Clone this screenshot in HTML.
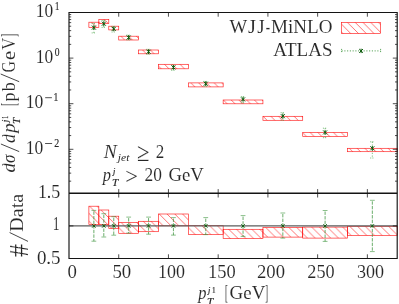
<!DOCTYPE html>
<html><head><meta charset="utf-8"><title>plot</title>
<style>
html,body{margin:0;padding:0;background:#fff;}
body{width:399px;height:304px;overflow:hidden;font-family:"Liberation Serif",serif;}
svg{display:block;will-change:transform;}
text{font-family:"Liberation Serif",serif;}
</style></head><body>
<svg width="399" height="304" viewBox="0 0 399 304">
<rect width="399" height="304" fill="#fff"/>
<defs><pattern id="h" patternUnits="userSpaceOnUse" width="7.75" height="7.75" patternTransform="translate(-0.5,0)"><path d="M-7.75,-7.75 L15.5,15.5 M0,-7.75 L15.5,7.75 M-7.75,0 L7.75,15.5" stroke="#ff0000" stroke-width="0.62" stroke-opacity="0.9" fill="none"/></pattern></defs>
<rect x="88.89" y="206.20" width="9.95" height="18.40" fill="url(#h)" stroke="#ff0000" stroke-width="0.65" stroke-opacity="0.9"/>
<rect x="98.84" y="210.00" width="9.95" height="14.60" fill="url(#h)" stroke="#ff0000" stroke-width="0.65" stroke-opacity="0.9"/>
<rect x="108.78" y="216.20" width="9.95" height="12.20" fill="url(#h)" stroke="#ff0000" stroke-width="0.65" stroke-opacity="0.9"/>
<rect x="118.73" y="222.50" width="19.89" height="10.80" fill="url(#h)" stroke="#ff0000" stroke-width="0.65" stroke-opacity="0.9"/>
<rect x="138.62" y="221.30" width="19.89" height="10.40" fill="url(#h)" stroke="#ff0000" stroke-width="0.65" stroke-opacity="0.9"/>
<rect x="158.51" y="214.00" width="29.84" height="11.80" fill="url(#h)" stroke="#ff0000" stroke-width="0.65" stroke-opacity="0.9"/>
<rect x="188.35" y="225.70" width="34.81" height="8.90" fill="url(#h)" stroke="#ff0000" stroke-width="0.65" stroke-opacity="0.9"/>
<rect x="223.15" y="229.30" width="39.78" height="9.30" fill="url(#h)" stroke="#ff0000" stroke-width="0.65" stroke-opacity="0.9"/>
<rect x="262.94" y="227.60" width="39.78" height="9.50" fill="url(#h)" stroke="#ff0000" stroke-width="0.65" stroke-opacity="0.9"/>
<rect x="302.72" y="227.10" width="44.75" height="11.00" fill="url(#h)" stroke="#ff0000" stroke-width="0.65" stroke-opacity="0.9"/>
<rect x="347.47" y="226.40" width="49.73" height="9.00" fill="url(#h)" stroke="#ff0000" stroke-width="0.65" stroke-opacity="0.9"/>
<line x1="69.0" y1="225.90" x2="397.2" y2="225.90" stroke="#5c5c5c" stroke-width="1.35"/>
<line x1="93.86" y1="210.40" x2="93.86" y2="241.20" stroke="#3b933b" stroke-width="0.75" stroke-dasharray="3.4,1.2" stroke-dashoffset="-1.0"/>
<path d="M91.46,210.40 h4.8 M91.46,241.20 h4.8" stroke="#3b933b" stroke-width="0.6" fill="none"/>
<path d="M92.16,224.20 L95.56,227.60 M92.16,227.60 L95.56,224.20" stroke="#0b5a0b" stroke-width="1.0" fill="none"/>
<line x1="103.81" y1="213.70" x2="103.81" y2="237.00" stroke="#3b933b" stroke-width="0.75" stroke-dasharray="3.4,1.2" stroke-dashoffset="-1.0"/>
<path d="M101.41,213.70 h4.8 M101.41,237.00 h4.8" stroke="#3b933b" stroke-width="0.6" fill="none"/>
<path d="M102.11,224.20 L105.51,227.60 M102.11,227.60 L105.51,224.20" stroke="#0b5a0b" stroke-width="1.0" fill="none"/>
<line x1="113.75" y1="216.70" x2="113.75" y2="235.20" stroke="#3b933b" stroke-width="0.75" stroke-dasharray="3.4,1.2" stroke-dashoffset="-1.0"/>
<path d="M111.35,216.70 h4.8 M111.35,235.20 h4.8" stroke="#3b933b" stroke-width="0.6" fill="none"/>
<path d="M112.05,224.20 L115.45,227.60 M112.05,227.60 L115.45,224.20" stroke="#0b5a0b" stroke-width="1.0" fill="none"/>
<line x1="128.67" y1="217.10" x2="128.67" y2="233.10" stroke="#3b933b" stroke-width="0.75" stroke-dasharray="3.4,1.2" stroke-dashoffset="-1.0"/>
<path d="M126.27,217.10 h4.8 M126.27,233.10 h4.8" stroke="#3b933b" stroke-width="0.6" fill="none"/>
<path d="M126.97,224.20 L130.37,227.60 M126.97,227.60 L130.37,224.20" stroke="#0b5a0b" stroke-width="1.0" fill="none"/>
<line x1="148.56" y1="217.10" x2="148.56" y2="234.20" stroke="#3b933b" stroke-width="0.75" stroke-dasharray="3.4,1.2" stroke-dashoffset="-1.0"/>
<path d="M146.16,217.10 h4.8 M146.16,234.20 h4.8" stroke="#3b933b" stroke-width="0.6" fill="none"/>
<path d="M146.86,224.20 L150.26,227.60 M146.86,227.60 L150.26,224.20" stroke="#0b5a0b" stroke-width="1.0" fill="none"/>
<line x1="173.43" y1="217.60" x2="173.43" y2="235.10" stroke="#3b933b" stroke-width="0.75" stroke-dasharray="3.4,1.2" stroke-dashoffset="-1.0"/>
<path d="M171.03,217.60 h4.8 M171.03,235.10 h4.8" stroke="#3b933b" stroke-width="0.6" fill="none"/>
<path d="M171.73,224.20 L175.13,227.60 M171.73,227.60 L175.13,224.20" stroke="#0b5a0b" stroke-width="1.0" fill="none"/>
<line x1="205.75" y1="217.60" x2="205.75" y2="234.60" stroke="#3b933b" stroke-width="0.75" stroke-dasharray="3.4,1.2" stroke-dashoffset="-1.0"/>
<path d="M203.35,217.60 h4.8 M203.35,234.60 h4.8" stroke="#3b933b" stroke-width="0.6" fill="none"/>
<path d="M204.05,224.20 L207.45,227.60 M204.05,227.60 L207.45,224.20" stroke="#0b5a0b" stroke-width="1.0" fill="none"/>
<line x1="243.05" y1="215.60" x2="243.05" y2="236.40" stroke="#3b933b" stroke-width="0.75" stroke-dasharray="3.4,1.2" stroke-dashoffset="-1.0"/>
<path d="M240.65,215.60 h4.8 M240.65,236.40 h4.8" stroke="#3b933b" stroke-width="0.6" fill="none"/>
<path d="M241.35,224.20 L244.75,227.60 M241.35,227.60 L244.75,224.20" stroke="#0b5a0b" stroke-width="1.0" fill="none"/>
<line x1="282.83" y1="213.00" x2="282.83" y2="238.10" stroke="#3b933b" stroke-width="0.75" stroke-dasharray="3.4,1.2" stroke-dashoffset="-1.0"/>
<path d="M280.43,213.00 h4.8 M280.43,238.10 h4.8" stroke="#3b933b" stroke-width="0.6" fill="none"/>
<path d="M281.13,224.20 L284.53,227.60 M281.13,227.60 L284.53,224.20" stroke="#0b5a0b" stroke-width="1.0" fill="none"/>
<line x1="325.10" y1="210.50" x2="325.10" y2="241.40" stroke="#3b933b" stroke-width="0.75" stroke-dasharray="3.4,1.2" stroke-dashoffset="-1.0"/>
<path d="M322.70,210.50 h4.8 M322.70,241.40 h4.8" stroke="#3b933b" stroke-width="0.6" fill="none"/>
<path d="M323.40,224.20 L326.80,227.60 M323.40,227.60 L326.80,224.20" stroke="#0b5a0b" stroke-width="1.0" fill="none"/>
<line x1="372.34" y1="200.30" x2="372.34" y2="251.60" stroke="#3b933b" stroke-width="0.75" stroke-dasharray="3.4,1.2" stroke-dashoffset="-1.0"/>
<path d="M369.94,200.30 h4.8 M369.94,251.60 h4.8" stroke="#3b933b" stroke-width="0.6" fill="none"/>
<path d="M370.64,224.20 L374.04,227.60 M370.64,227.60 L374.04,224.20" stroke="#0b5a0b" stroke-width="1.0" fill="none"/>
<rect x="88.89" y="22.20" width="9.95" height="5.10" fill="url(#h)" stroke="#ff0000" stroke-width="0.65" stroke-opacity="0.9"/>
<rect x="98.84" y="19.40" width="9.95" height="4.20" fill="url(#h)" stroke="#ff0000" stroke-width="0.65" stroke-opacity="0.9"/>
<rect x="108.78" y="26.20" width="9.95" height="3.70" fill="url(#h)" stroke="#ff0000" stroke-width="0.65" stroke-opacity="0.9"/>
<rect x="118.73" y="36.20" width="19.89" height="3.80" fill="url(#h)" stroke="#ff0000" stroke-width="0.65" stroke-opacity="0.9"/>
<rect x="138.62" y="50.00" width="19.89" height="3.80" fill="url(#h)" stroke="#ff0000" stroke-width="0.65" stroke-opacity="0.9"/>
<rect x="158.51" y="64.30" width="29.84" height="4.50" fill="url(#h)" stroke="#ff0000" stroke-width="0.65" stroke-opacity="0.9"/>
<rect x="188.35" y="82.90" width="34.81" height="4.00" fill="url(#h)" stroke="#ff0000" stroke-width="0.65" stroke-opacity="0.9"/>
<rect x="223.15" y="100.00" width="39.78" height="3.80" fill="url(#h)" stroke="#ff0000" stroke-width="0.65" stroke-opacity="0.9"/>
<rect x="262.94" y="116.30" width="39.78" height="4.00" fill="url(#h)" stroke="#ff0000" stroke-width="0.65" stroke-opacity="0.9"/>
<rect x="302.72" y="132.40" width="44.75" height="4.00" fill="url(#h)" stroke="#ff0000" stroke-width="0.65" stroke-opacity="0.9"/>
<rect x="347.47" y="148.30" width="49.73" height="3.40" fill="url(#h)" stroke="#ff0000" stroke-width="0.65" stroke-opacity="0.9"/>
<line x1="93.86" y1="23.50" x2="93.86" y2="32.90" stroke="#4fa64f" stroke-width="0.8" stroke-dasharray="1.1,1.65"/>
<path d="M91.66,23.50 h4.4 M91.66,32.90 h4.4" stroke="#4fa64f" stroke-width="0.7" stroke-dasharray="1.1,1.1" fill="none"/>
<path d="M91.86,25.60 L95.86,29.60 M91.86,29.60 L95.86,25.60 M93.86,25.30 L93.86,29.90" stroke="#0b5a0b" stroke-width="1.0" fill="none"/>
<line x1="103.81" y1="20.50" x2="103.81" y2="27.40" stroke="#4fa64f" stroke-width="0.8" stroke-dasharray="1.1,1.65"/>
<path d="M101.61,20.50 h4.4 M101.61,27.40 h4.4" stroke="#4fa64f" stroke-width="0.7" stroke-dasharray="1.1,1.1" fill="none"/>
<path d="M101.81,21.70 L105.81,25.70 M101.81,25.70 L105.81,21.70 M103.81,21.40 L103.81,26.00" stroke="#0b5a0b" stroke-width="1.0" fill="none"/>
<line x1="113.75" y1="26.40" x2="113.75" y2="32.00" stroke="#4fa64f" stroke-width="0.8" stroke-dasharray="1.1,1.65"/>
<path d="M111.55,26.40 h4.4 M111.55,32.00 h4.4" stroke="#4fa64f" stroke-width="0.7" stroke-dasharray="1.1,1.1" fill="none"/>
<path d="M111.75,26.90 L115.75,30.90 M111.75,30.90 L115.75,26.90 M113.75,26.60 L113.75,31.20" stroke="#0b5a0b" stroke-width="1.0" fill="none"/>
<line x1="128.67" y1="35.10" x2="128.67" y2="39.90" stroke="#4fa64f" stroke-width="0.8" stroke-dasharray="1.1,1.65"/>
<path d="M126.47,35.10 h4.4 M126.47,39.90 h4.4" stroke="#4fa64f" stroke-width="0.7" stroke-dasharray="1.1,1.1" fill="none"/>
<path d="M126.67,35.50 L130.67,39.50 M126.67,39.50 L130.67,35.50 M128.67,35.20 L128.67,39.80" stroke="#0b5a0b" stroke-width="1.0" fill="none"/>
<line x1="148.56" y1="49.30" x2="148.56" y2="54.40" stroke="#4fa64f" stroke-width="0.8" stroke-dasharray="1.1,1.65"/>
<path d="M146.36,49.30 h4.4 M146.36,54.40 h4.4" stroke="#4fa64f" stroke-width="0.7" stroke-dasharray="1.1,1.1" fill="none"/>
<path d="M146.56,49.70 L150.56,53.70 M146.56,53.70 L150.56,49.70 M148.56,49.40 L148.56,54.00" stroke="#0b5a0b" stroke-width="1.0" fill="none"/>
<line x1="173.43" y1="65.10" x2="173.43" y2="70.40" stroke="#4fa64f" stroke-width="0.8" stroke-dasharray="1.1,1.65"/>
<path d="M171.23,65.10 h4.4 M171.23,70.40 h4.4" stroke="#4fa64f" stroke-width="0.7" stroke-dasharray="1.1,1.1" fill="none"/>
<path d="M171.43,65.40 L175.43,69.40 M171.43,69.40 L175.43,65.40 M173.43,65.10 L173.43,69.70" stroke="#0b5a0b" stroke-width="1.0" fill="none"/>
<line x1="205.75" y1="81.40" x2="205.75" y2="86.60" stroke="#4fa64f" stroke-width="0.8" stroke-dasharray="1.1,1.65"/>
<path d="M203.55,81.40 h4.4 M203.55,86.60 h4.4" stroke="#4fa64f" stroke-width="0.7" stroke-dasharray="1.1,1.1" fill="none"/>
<path d="M203.75,81.70 L207.75,85.70 M203.75,85.70 L207.75,81.70 M205.75,81.40 L205.75,86.00" stroke="#0b5a0b" stroke-width="1.0" fill="none"/>
<line x1="243.05" y1="96.60" x2="243.05" y2="102.90" stroke="#4fa64f" stroke-width="0.8" stroke-dasharray="1.1,1.65"/>
<path d="M240.85,96.60 h4.4 M240.85,102.90 h4.4" stroke="#4fa64f" stroke-width="0.7" stroke-dasharray="1.1,1.1" fill="none"/>
<path d="M241.05,97.40 L245.05,101.40 M241.05,101.40 L245.05,97.40 M243.05,97.10 L243.05,101.70" stroke="#0b5a0b" stroke-width="1.0" fill="none"/>
<line x1="282.83" y1="112.70" x2="282.83" y2="120.30" stroke="#4fa64f" stroke-width="0.8" stroke-dasharray="1.1,1.65"/>
<path d="M280.63,112.70 h4.4 M280.63,120.30 h4.4" stroke="#4fa64f" stroke-width="0.7" stroke-dasharray="1.1,1.1" fill="none"/>
<path d="M280.83,114.20 L284.83,118.20 M280.83,118.20 L284.83,114.20 M282.83,113.90 L282.83,118.50" stroke="#0b5a0b" stroke-width="1.0" fill="none"/>
<line x1="325.10" y1="128.20" x2="325.10" y2="137.70" stroke="#4fa64f" stroke-width="0.8" stroke-dasharray="1.1,1.65"/>
<path d="M322.90,128.20 h4.4 M322.90,137.70 h4.4" stroke="#4fa64f" stroke-width="0.7" stroke-dasharray="1.1,1.1" fill="none"/>
<path d="M323.10,130.40 L327.10,134.40 M323.10,134.40 L327.10,130.40 M325.10,130.10 L325.10,134.70" stroke="#0b5a0b" stroke-width="1.0" fill="none"/>
<line x1="372.34" y1="141.80" x2="372.34" y2="158.00" stroke="#4fa64f" stroke-width="0.8" stroke-dasharray="1.1,1.65"/>
<path d="M370.14,141.80 h4.4 M370.14,158.00 h4.4" stroke="#4fa64f" stroke-width="0.7" stroke-dasharray="1.1,1.1" fill="none"/>
<path d="M370.34,146.30 L374.34,150.30 M370.34,150.30 L374.34,146.30 M372.34,146.00 L372.34,150.60" stroke="#0b5a0b" stroke-width="1.0" fill="none"/>
<rect x="341.50" y="22.50" width="39.00" height="11.00" fill="url(#h)" stroke="#ff0000" stroke-width="0.65" stroke-opacity="0.9"/>
<line x1="341.6" y1="50.9" x2="380.6" y2="50.9" stroke="#3b933b" stroke-width="0.9" stroke-dasharray="1.1,1.65"/>
<path d="M341.6,48.9 v4 M380.6,48.9 v4" stroke="#3b933b" stroke-width="0.8" stroke-dasharray="1.1,1.0" fill="none"/>
<path d="M359.20,49.00 L363.00,52.80 M359.20,52.80 L363.00,49.00 M361.10,48.70 L361.10,53.10" stroke="#0b5a0b" stroke-width="1.0" fill="none"/>
<path d="M69.0,12.5 H397.2 V258.5 H69.0 Z" stroke="#141414" stroke-width="1.15" fill="none"/>
<path d="M69.0,193.3 H397.2" stroke="#141414" stroke-width="1.4" fill="none"/>
<path d="M118.73,12.5 v4.2 M118.73,189.10000000000002 v8.4 M118.73,258.5 v-4.2 M168.45,12.5 v4.2 M168.45,189.10000000000002 v8.4 M168.45,258.5 v-4.2 M218.18,12.5 v4.2 M218.18,189.10000000000002 v8.4 M218.18,258.5 v-4.2 M267.91,12.5 v4.2 M267.91,189.10000000000002 v8.4 M267.91,258.5 v-4.2 M317.64,12.5 v4.2 M317.64,189.10000000000002 v8.4 M317.64,258.5 v-4.2 M367.36,12.5 v4.2 M367.36,189.10000000000002 v8.4 M367.36,258.5 v-4.2 M69.0,44.37 h2.2 M397.2,44.37 h-2.2 M69.0,36.34 h2.2 M397.2,36.34 h-2.2 M69.0,30.65 h2.2 M397.2,30.65 h-2.2 M69.0,26.23 h2.2 M397.2,26.23 h-2.2 M69.0,22.62 h2.2 M397.2,22.62 h-2.2 M69.0,19.56 h2.2 M397.2,19.56 h-2.2 M69.0,16.92 h2.2 M397.2,16.92 h-2.2 M69.0,14.59 h2.2 M397.2,14.59 h-2.2 M69.0,58.10 h4.4 M397.2,58.10 h-4.4 M69.0,89.97 h2.2 M397.2,89.97 h-2.2 M69.0,81.94 h2.2 M397.2,81.94 h-2.2 M69.0,76.25 h2.2 M397.2,76.25 h-2.2 M69.0,71.83 h2.2 M397.2,71.83 h-2.2 M69.0,68.22 h2.2 M397.2,68.22 h-2.2 M69.0,65.16 h2.2 M397.2,65.16 h-2.2 M69.0,62.52 h2.2 M397.2,62.52 h-2.2 M69.0,60.19 h2.2 M397.2,60.19 h-2.2 M69.0,103.70 h4.4 M397.2,103.70 h-4.4 M69.0,135.57 h2.2 M397.2,135.57 h-2.2 M69.0,127.54 h2.2 M397.2,127.54 h-2.2 M69.0,121.85 h2.2 M397.2,121.85 h-2.2 M69.0,117.43 h2.2 M397.2,117.43 h-2.2 M69.0,113.82 h2.2 M397.2,113.82 h-2.2 M69.0,110.76 h2.2 M397.2,110.76 h-2.2 M69.0,108.12 h2.2 M397.2,108.12 h-2.2 M69.0,105.79 h2.2 M397.2,105.79 h-2.2 M69.0,149.30 h4.4 M397.2,149.30 h-4.4 M69.0,181.17 h2.2 M397.2,181.17 h-2.2 M69.0,173.14 h2.2 M397.2,173.14 h-2.2 M69.0,167.45 h2.2 M397.2,167.45 h-2.2 M69.0,163.03 h2.2 M397.2,163.03 h-2.2 M69.0,159.42 h2.2 M397.2,159.42 h-2.2 M69.0,156.36 h2.2 M397.2,156.36 h-2.2 M69.0,153.72 h2.2 M397.2,153.72 h-2.2 M69.0,151.39 h2.2 M397.2,151.39 h-2.2 M69.0,225.90 h4.4 M397.2,225.90 h-4.4" stroke="#141414" stroke-width="0.75" fill="none"/>
<text transform="translate(35.80,16.50) scale(0.9158,1.0000)" font-size="19" fill="#262626" stroke="#fff" stroke-width="0.1">10</text>
<text transform="translate(55.00,9.80) scale(0.7478,1.0000)" font-size="11.5" fill="#262626" stroke="#262626" stroke-width="0.15">1</text>
<text transform="translate(35.80,62.90) scale(0.9158,1.0000)" font-size="19" fill="#262626" stroke="#fff" stroke-width="0.1">10</text>
<text transform="translate(54.80,56.20) scale(0.8348,1.0000)" font-size="11.5" fill="#262626" stroke="#262626" stroke-width="0.15">0</text>
<text transform="translate(25.70,108.20) scale(0.9263,1.0000)" font-size="19" fill="#262626" stroke="#fff" stroke-width="0.1">10</text>
<line x1="45.2" y1="97.7" x2="51.9" y2="97.7" stroke="#262626" stroke-width="0.8"/>
<text transform="translate(53.50,101.30) scale(0.8348,1.0000)" font-size="11.5" fill="#262626" stroke="#262626" stroke-width="0.15">1</text>
<text transform="translate(25.70,154.00) scale(0.9211,1.0000)" font-size="19" fill="#262626" stroke="#fff" stroke-width="0.1">10</text>
<line x1="45.1" y1="143.5" x2="52.1" y2="143.5" stroke="#262626" stroke-width="0.8"/>
<text transform="translate(54.30,146.60) scale(0.8696,1.0000)" font-size="11.5" fill="#262626" stroke="#262626" stroke-width="0.15">2</text>
<text transform="translate(37.90,197.90) scale(0.9432,1.0000)" font-size="19" fill="#262626" stroke="#fff" stroke-width="0.1">1.5</text>
<text transform="translate(52.80,230.40) scale(0.7158,1.0000)" font-size="19" fill="#262626" stroke="#fff" stroke-width="0.1">1</text>
<text transform="translate(36.90,263.90) scale(0.9979,1.0000)" font-size="19" fill="#262626" stroke="#fff" stroke-width="0.1">0.5</text>
<text transform="translate(67.40,278.20) scale(0.9895,1.0000)" font-size="19" fill="#262626" stroke="#fff" stroke-width="0.1">0</text>
<text transform="translate(112.40,278.20) scale(0.9895,1.0000)" font-size="19" fill="#262626" stroke="#fff" stroke-width="0.1">50</text>
<text transform="translate(158.10,278.20) scale(0.9474,1.0000)" font-size="19" fill="#262626" stroke="#fff" stroke-width="0.1">100</text>
<text transform="translate(208.10,278.20) scale(0.9719,1.0000)" font-size="19" fill="#262626" stroke="#fff" stroke-width="0.1">150</text>
<text transform="translate(257.00,278.20) scale(0.9825,1.0000)" font-size="19" fill="#262626" stroke="#fff" stroke-width="0.1">200</text>
<text transform="translate(307.30,278.20) scale(0.9579,1.0000)" font-size="19" fill="#262626" stroke="#fff" stroke-width="0.1">250</text>
<text transform="translate(356.90,278.20) scale(0.9509,1.0000)" font-size="19" fill="#262626" stroke="#fff" stroke-width="0.1">300</text>
<text transform="translate(229.60,32.80) scale(0.9858,1.0000)" font-size="19" fill="#262626" stroke="#fff" stroke-width="0.1">W</text>
<text transform="translate(247.90,32.80) scale(1.0796,1.0000)" font-size="19" fill="#262626" stroke="#fff" stroke-width="0.1">J</text>
<text transform="translate(257.30,32.80) scale(0.9987,1.0000)" font-size="19" fill="#262626" stroke="#fff" stroke-width="0.1">J</text>
<text transform="translate(265.80,32.80) scale(0.6806,1.0000)" font-size="19" fill="#262626" stroke="#fff" stroke-width="0.1">-</text>
<text transform="translate(271.00,32.80) scale(1.0045,1.0000)" font-size="19" fill="#262626" stroke="#fff" stroke-width="0.1">MiNLO</text>
<text transform="translate(273.30,55.60) scale(1.0027,1.0000)" font-size="19" fill="#262626" stroke="#fff" stroke-width="0.1">ATLAS</text>
<text transform="translate(103.65,158.00) scale(1.0271,1.0000)" font-size="19" font-style="italic" fill="#262626" stroke="#fff" stroke-width="0.1">N</text>
<text transform="translate(117.84,160.60) scale(1.1504,1.0000)" font-size="10" font-style="italic" fill="#262626">jet</text>
<text transform="translate(137.10,160.80) scale(1.1962,1.3800)" font-size="19" fill="#262626" stroke="#fff" stroke-width="0.1">≥</text>
<text transform="translate(155.80,158.00) scale(0.8947,1.0000)" font-size="19" fill="#262626" stroke="#fff" stroke-width="0.1">2</text>
<text transform="translate(102.79,180.50) scale(0.8647,1.0000)" font-size="19" font-style="italic" fill="#262626" stroke="#fff" stroke-width="0.1">p</text>
<text transform="translate(113.09,173.60) scale(0.9778,1.0000)" font-size="8.5" font-style="italic" fill="#262626" stroke="#262626" stroke-width="0.2">j</text>
<text transform="translate(111.90,185.60) scale(1.2189,1.0000)" font-size="9.3" font-style="italic" fill="#262626" stroke="#262626" stroke-width="0.15">T</text>
<text transform="translate(125.20,183.50) scale(1.1924,1.2100)" font-size="19" fill="#262626" stroke="#fff" stroke-width="0.1">&gt;</text>
<text transform="translate(144.50,180.50) scale(0.9158,1.0000)" font-size="19" fill="#262626" stroke="#fff" stroke-width="0.1">20</text>
<text transform="translate(168.40,180.50) scale(0.9871,1.0000)" font-size="19" fill="#262626" stroke="#fff" stroke-width="0.1">GeV</text>
<text transform="translate(198.19,298.60) scale(0.8647,1.0000)" font-size="19" font-style="italic" fill="#262626" stroke="#fff" stroke-width="0.1">p</text>
<text transform="translate(208.09,293.40) scale(0.9778,1.0000)" font-size="8.5" font-style="italic" fill="#262626" stroke="#262626" stroke-width="0.2">j</text>
<text transform="translate(212.00,292.90) scale(0.8471,1.0000)" font-size="8.5" fill="#262626" stroke="#262626" stroke-width="0.2">1</text>
<text transform="translate(206.90,304.70) scale(1.2189,1.0000)" font-size="9.3" font-style="italic" fill="#262626" stroke="#262626" stroke-width="0.15">T</text>
<text transform="translate(224.90,298.60) scale(0.4432,1.0800)" font-size="19" fill="#262626" stroke="#fff" stroke-width="0.1">[</text>
<text transform="translate(229.60,298.60) scale(0.9955,1.0000)" font-size="19" fill="#262626" stroke="#fff" stroke-width="0.1">GeV</text>
<text transform="translate(265.30,298.60) scale(0.4432,1.0800)" font-size="19" fill="#262626" stroke="#fff" stroke-width="0.1">]</text>
<text transform="translate(14.60,172.50) rotate(-90) scale(0.9950,1.0000)" font-size="19" font-style="italic" fill="#262626" stroke="#fff" stroke-width="0.1">d</text>
<text transform="translate(14.60,163.00) rotate(-90) scale(0.9023,1.0000)" font-size="19" font-style="italic" fill="#262626" stroke="#fff" stroke-width="0.1">σ</text>
<line x1="19.2" y1="151.6" x2="0.9" y2="144.0" stroke="#262626" stroke-width="0.85"/>
<text transform="translate(14.60,143.00) rotate(-90) scale(0.9427,1.0000)" font-size="19" font-style="italic" fill="#262626" stroke="#fff" stroke-width="0.1">d</text>
<text transform="translate(14.60,132.86) rotate(-90) scale(0.9962,1.0000)" font-size="19" font-style="italic" fill="#262626" stroke="#fff" stroke-width="0.1">p</text>
<text transform="translate(19.80,124.00) rotate(-90) scale(1.1841,1.0000)" font-size="9.3" font-style="italic" fill="#262626" stroke="#262626" stroke-width="0.15">T</text>
<text transform="translate(7.80,122.19) rotate(-90) scale(1.1001,1.0000)" font-size="8.5" font-style="italic" fill="#262626" stroke="#262626" stroke-width="0.2">j</text>
<text transform="translate(8.00,118.80) rotate(-90) scale(0.6588,1.0000)" font-size="8.5" fill="#262626" stroke="#262626" stroke-width="0.2">1</text>
<text transform="translate(14.60,105.70) rotate(-90) scale(0.4432,1.0800)" font-size="19" fill="#262626" stroke="#fff" stroke-width="0.1">[</text>
<text transform="translate(14.60,101.60) rotate(-90) scale(0.9474,1.0000)" font-size="19" fill="#262626" stroke="#fff" stroke-width="0.1">p</text>
<text transform="translate(14.60,91.20) rotate(-90) scale(0.9474,1.0000)" font-size="19" fill="#262626" stroke="#fff" stroke-width="0.1">b</text>
<line x1="19.2" y1="81.7" x2="0.7" y2="74.0" stroke="#262626" stroke-width="0.85"/>
<text transform="translate(14.60,72.60) rotate(-90) scale(0.8304,1.0000)" font-size="19" fill="#262626" stroke="#fff" stroke-width="0.1">G</text>
<text transform="translate(14.60,60.00) rotate(-90) scale(1.0881,1.0000)" font-size="19" fill="#262626" stroke="#fff" stroke-width="0.1">e</text>
<text transform="translate(14.60,49.80) rotate(-90) scale(0.8742,1.0000)" font-size="19" fill="#262626" stroke="#fff" stroke-width="0.1">V</text>
<text transform="translate(14.60,36.80) rotate(-90) scale(0.4432,1.0800)" font-size="19" fill="#262626" stroke="#fff" stroke-width="0.1">]</text>
<text transform="translate(27.60,257.00) rotate(-90) scale(1.3684,1.4000)" font-size="19" fill="#262626" stroke="#fff" stroke-width="0.1">#</text>
<line x1="28.0" y1="241.4" x2="9.6" y2="232.5" stroke="#262626" stroke-width="0.85"/>
<text transform="translate(23.20,231.70) rotate(-90) scale(1.0540,1.0000)" font-size="19" fill="#262626" stroke="#fff" stroke-width="0.1">Data</text>
</svg>
</body></html>
